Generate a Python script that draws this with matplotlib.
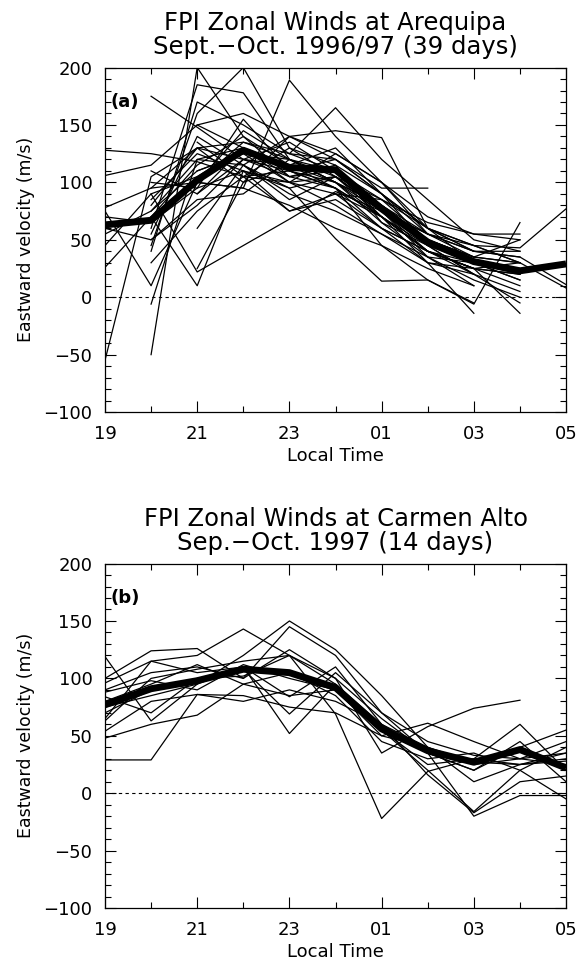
import numpy as np
import matplotlib.pyplot as plt
from matplotlib.ticker import MultipleLocator, FixedLocator

nan = np.nan

# local time (hours after midnight of the first day, 29 = 05 LT)
hours = [19, 20, 21, 22, 23, 24, 25, 26, 27, 28, 29]
tick_hours = [19, 21, 23, 25, 27, 29]
tick_labels = ['19', '21', '23', '01', '03', '05']

# Arequipa, nightly zonal winds (m/s), one row per night
arequipa_nights = [
    [128, 125, 118, 105, 110, 100, 80, 55, 40, nan, nan],
    [106, 115, 150, 160, 140, 125, 100, 60, 45, 30, nan],
    [78, 95, 130, 135, 120, 105, 75, 45, 30, 20, nan],
    [70, 65, 100, 135, 125, 120, 90, 55, 35, nan, nan],
    [60, 50, 80, 120, 115, 110, 70, 40, 25, 20, nan],
    [55, 75, 110, 125, 100, 105, 85, 50, 30, 25, nan],
    [45, 90, 105, 130, 115, 100, 65, 45, 20, nan, nan],
    [26, 70, 115, 140, 105, 110, 80, 50, 35, 30, nan],
    [-55, 105, 130, 120, 110, 95, 60, 40, 25, nan, nan],
    [75, 10, 100, 145, 120, 100, 80, 50, 35, 30, nan],
    [nan, 175, 148, 120, 105, 95, 70, 45, nan, nan, nan],
    [nan, -50, 200, 140, 115, 95, 70, 40, 20, nan, nan],
    [nan, -6, 120, 130, 105, 115, 90, 60, 30, 15, nan],
    [nan, 70, 10, 110, 95, 105, 75, 40, 25, 10, nan],
    [nan, 90, 22, 45, 68, 92, 75, 55, nan, nan, nan],
    [nan, 60, 185, 178, 120, 110, 80, 50, 30, nan, nan],
    [nan, 45, 160, 200, 130, 105, 75, 35, 10, nan, nan],
    [nan, 95, 100, 95, 189, 140, 100, 55, 40, 35, nan],
    [nan, 40, 170, 150, 125, 165, 120, 85, 50, 40, nan],
    [nan, 80, 130, 100, 140, 145, 139, 60, 45, 30, nan],
    [nan, 100, 95, 155, 110, 120, 95, 95, nan, nan, nan],
    [nan, 55, 140, 115, 90, 75, 55, 30, -14, nan, nan],
    [nan, 85, 125, 110, 75, 85, 60, 40, 25, -14, nan],
    [nan, 30, 75, 105, 130, 115, 65, 35, 15, 0, nan],
    [nan, 65, 95, 110, 100, 125, 100, 70, 55, 50, nan],
    [nan, 50, 85, 90, 120, 100, 75, 55, 45, 43, 77],
    [nan, 75, 120, 115, 85, 105, 70, 40, 25, 30, 8],
    [nan, 110, 90, 120, 135, 110, 85, 60, 40, 35, 11],
    [nan, nan, 60, 115, 95, 51, 14, 15, -5, nan, nan],
    [nan, nan, 90, 130, 110, 95, 45, 15, -6, 65, nan],
    [nan, nan, 135, 105, 75, 90, 85, 65, 55, 55, nan],
    [nan, nan, 110, 125, 120, 100, 70, 30, 20, 5, nan],
    [nan, nan, 150, 130, 100, 80, 55, 35, 30, 25, nan],
    [nan, nan, 25, 100, 115, 130, 90, 45, 20, -5, nan],
    [nan, nan, 100, 95, 80, 60, 45, 25, 10, nan, nan],
    [nan, nan, nan, 115, 140, 120, 90, 60, 40, 40, nan],
    [nan, nan, nan, 105, 100, 90, 60, 30, 25, 20, nan],
    [nan, nan, nan, nan, 125, 110, 75, 50, 35, 50, nan],
    [nan, nan, nan, nan, nan, 90, 70, 40, 30, 15, nan],
]
arequipa_mean = [63, 67, 102, 128, 113, 111, 77, 48, 31, 23, 29]

# Carmen Alto, nightly zonal winds (m/s)
carmen_nights = [
    [119, 63, 95, 120, 150, 125, 85, 40, 25, 30, 45],
    [100, 124, 126, 100, 145, 120, 70, 35, 20, 45, 10],
    [96, 115, 120, 143, 120, 95, 60, 40, 27, 25, 30],
    [90, 105, 110, 100, 125, 100, 35, 58, 74, 81, nan],
    [84, 70, 100, 108, 69, 105, 70, 45, 33, 30, 35],
    [80, 95, 112, 95, 85, 90, 55, 20, -16, 20, 40],
    [65, 115, 105, 110, 52, 95, 55, 25, 30, 60, 20],
    [63, 100, 108, 115, 120, 69, -22, 19, 30, 25, 28],
    [54, 80, 86, 80, 90, 80, 60, 35, -20, -2, -2],
    [48, 60, 68, 95, 105, 85, 45, 30, 35, 20, -5],
    [29, 29, 86, 85, 75, 70, 50, 61, 45, 30, 25],
    [70, 90, 100, 102, 120, 100, 65, 35, 20, 40, 55],
    [75, 85, 95, 110, 84, 110, 60, 16, -17, 10, 15],
    [88, 98, 90, 112, 100, 90, 50, 40, 10, 25, 35],
]
carmen_mean = [77, 91, 98, 108, 105, 92, 56, 37, 27, 38, 22]

panels = [
    (arequipa_nights, arequipa_mean, 'FPI Zonal Winds at Arequipa\nSept.\u2212Oct. 1996/97 (39 days)', '(a)'),
    (carmen_nights, carmen_mean, 'FPI Zonal Winds at Carmen Alto\nSep.\u2212Oct. 1997 (14 days)', '(b)'),
]

fig = plt.figure(figsize=(5.8, 9.65), dpi=100)
boxes = [[0.181, 0.573, 0.795, 0.357], [0.181, 0.059, 0.795, 0.357]]

for box, (nights, mean, title, tag) in zip(boxes, panels):
    ax = fig.add_axes(box)
    for night in nights:
        ax.plot(hours, night, color='black', lw=0.9)
    ax.plot(hours, mean, color='black', lw=5, solid_capstyle='butt')
    ax.axhline(0, color='black', lw=0.8, ls=(0, (3, 3)))

    ax.set_xlim(19, 29)
    ax.set_ylim(-100, 200)
    ax.xaxis.set_major_locator(FixedLocator(tick_hours))
    ax.set_xticklabels(tick_labels)
    ax.xaxis.set_minor_locator(MultipleLocator(1))
    ax.yaxis.set_major_locator(MultipleLocator(50))
    ax.yaxis.set_minor_locator(MultipleLocator(10))
    ax.tick_params(which='both', direction='in', top=True, right=True, labelsize=13, width=0.8)
    ax.tick_params(which='major', length=8, pad=9)
    ax.tick_params(which='minor', length=4)
    for s in ax.spines.values():
        s.set_linewidth(0.9)

    ax.set_xlabel('Local Time', fontsize=13, labelpad=3)
    ax.set_ylabel('Eastward velocity (m/s)', fontsize=12.5, labelpad=6)
    ax.set_title(title, fontsize=17.5, linespacing=1.0, pad=10)
    ax.text(19.12, 170, tag, fontsize=13, fontweight='bold', va='center')

fig.savefig('out.png', dpi=100)
